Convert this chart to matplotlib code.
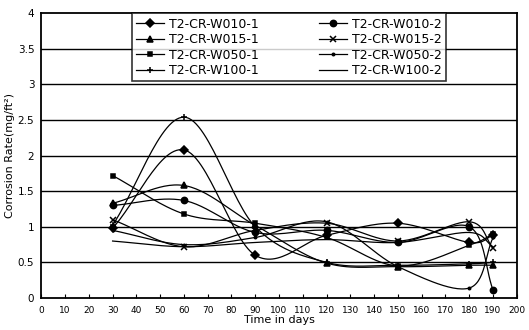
import numpy as np
import matplotlib
matplotlib.use("Agg")
import matplotlib.pyplot as plt
from matplotlib.lines import Line2D

days = [30, 60, 90, 120, 150, 180, 190]

w010_1 = [0.98, 2.08, 0.60, 0.88, 1.05, 0.78, 0.88]
w010_2 = [1.30, 1.37, 0.92, 0.95, 0.78, 1.00, 0.11]
w015_1 = [1.33, 1.58, 1.02, 0.49, 0.44, 0.46, 0.46]
w015_2 = [1.10, 0.72, 0.95, 1.05, 0.80, 1.07, 0.70]
w050_1 = [1.72, 1.18, 1.05, 0.85, 0.45, 0.74, 0.90]
w050_2 = [0.95, 0.75, 0.85, 1.07, 0.44, 0.14, 0.85]
w100_1 = [1.02, 2.54, 1.00, 0.50, 0.46, 0.48, 0.50]
w100_2 = [0.80, 0.72, 0.78, 0.82, 0.78, 0.92, 0.72]

labels = ["T2-CR-W010-1", "T2-CR-W010-2", "T2-CR-W015-1", "T2-CR-W015-2",
          "T2-CR-W050-1", "T2-CR-W050-2", "T2-CR-W100-1", "T2-CR-W100-2"]
series = [w010_1, w010_2, w015_1, w015_2, w050_1, w050_2, w100_1, w100_2]
markers = ["D", "o", "^", "x", "s", ".", "+", None]
msizes = [4, 4.5, 4.5, 5, 2.5, 3.5, 5, 0]

x_ticks = list(range(0, 201, 10))
y_ticks = [0, 0.5, 1, 1.5, 2, 2.5, 3, 3.5, 4]
y_ticklabels = ["0", "0.5", "1", "1.5", "2", "2.5", "3", "3.5", "4"]


def smooth(x, y, n=30):
    # Catmull-Rom style smoothing (like spreadsheet "smoothed line")
    x = np.asarray(x, float)
    y = np.asarray(y, float)
    px = np.concatenate([[2 * x[0] - x[1]], x, [2 * x[-1] - x[-2]]])
    py = np.concatenate([[2 * y[0] - y[1]], y, [2 * y[-1] - y[-2]]])
    xs, ys = [], []
    t = np.linspace(0, 1, n)
    for i in range(1, len(px) - 2):
        p0x, p1x, p2x, p3x = px[i - 1:i + 3]
        p0y, p1y, p2y, p3y = py[i - 1:i + 3]
        c1x = p1x + (p2x - p0x) / 6
        c1y = p1y + (p2y - p0y) / 6
        c2x = p2x - (p3x - p1x) / 6
        c2y = p2y - (p3y - p1y) / 6
        bx = (1 - t) ** 3 * p1x + 3 * (1 - t) ** 2 * t * c1x + 3 * (1 - t) * t ** 2 * c2x + t ** 3 * p2x
        by = (1 - t) ** 3 * p1y + 3 * (1 - t) ** 2 * t * c1y + 3 * (1 - t) * t ** 2 * c2y + t ** 3 * p2y
        xs.append(bx)
        ys.append(by)
    return np.concatenate(xs), np.concatenate(ys)


fig = plt.figure(figsize=(5.29, 3.30), dpi=100)
ax = fig.add_axes([0.078, 0.097, 0.899, 0.863])

for yv in y_ticks[1:-1]:
    ax.axhline(yv, color="black", lw=1.0, zorder=1)

handles = {}
for vals, mk, ms, lab in zip(series, markers, msizes, labels):
    sx, sy = smooth(days, vals)
    ax.plot(sx, sy, color="black", lw=0.9, zorder=2)
    if mk is not None:
        ax.plot(days, vals, linestyle="none", marker=mk, color="black",
                markersize=ms, markeredgewidth=1.1, zorder=3)
    handles[lab] = Line2D([0], [0], color="black", lw=0.9, marker=mk,
                          markersize=ms if mk else 0, markeredgewidth=1.1, label=lab)

ax.set_xlim(0, 200)
ax.set_ylim(0, 4)
ax.set_xticks(x_ticks)
ax.set_xticklabels([str(v) for v in x_ticks], fontsize=6.5)
ax.set_yticks(y_ticks)
ax.set_yticklabels(y_ticklabels, fontsize=7.5)
ax.tick_params(axis="x", direction="in", length=3, pad=6)
ax.tick_params(axis="y", direction="in", length=0, pad=5)
for s in ax.spines.values():
    s.set_linewidth(1.3)
    s.set_color("black")

ax.set_xlabel("Time in days", fontsize=8, labelpad=0)
ax.set_ylabel("Corrosion Rate(mg/ft²)", fontsize=8, labelpad=2)

# column-wise order: left column "-1" series, right column "-2" series
order = labels[0::2] + labels[1::2]
leg = ax.legend(handles=[handles[l] for l in order], loc="upper left",
                bbox_to_anchor=(0.191, 0.75, 0.66, 0.25), mode="expand",
                ncol=2, fontsize=9, frameon=True, fancybox=False,
                edgecolor="black", borderaxespad=0, handlelength=2.2,
                handletextpad=0.4, columnspacing=1.6, labelspacing=0.2,
                borderpad=0.35)
leg.get_frame().set_linewidth(1.2)
leg.set_zorder(5)

fig.savefig("out.png", dpi=100)
